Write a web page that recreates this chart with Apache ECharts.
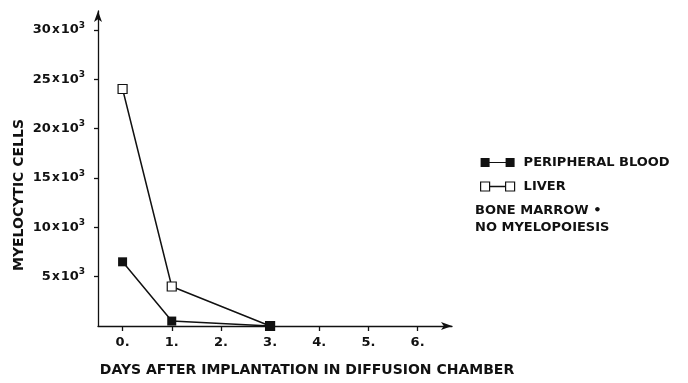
<!DOCTYPE html>
<html>
<head>
<meta charset="utf-8">
<script src="https://cdn.jsdelivr.net/npm/echarts@6/dist/echarts.min.js"></script>
<style>
  html, body { margin: 0; padding: 0; background: #fff; }
  #chart { width: 688px; height: 383px; }
</style>
</head>
<body>
<div id="chart"></div>
<script>
// values
const days = [0, 1, 3]
const peripheralBlood = [6500, 500, 0]
const liver = [24000, 4000, 0]
const yTicks = [5000, 10000, 15000, 20000, 25000, 30000]
const xTicks = [0, 1, 2, 3, 4, 5, 6]

const font = 'DejaVu Sans'
const ink = '#111'

const chart = echarts.init(document.getElementById('chart'))

const filledIcon = 'path://M0,0 L9,0 L9,9 L0,9 Z M9,3.9 L25,3.9 L25,5.1 L9,5.1 Z M25,0 L34,0 L34,9 L25,9 Z'
const hollowIcon = 'path://M0,0 L9,0 L9,9 L0,9 Z M9,4.4 L25,4.4 L25,4.6 L9,4.6 Z M25,0 L34,0 L34,9 L25,9 Z'

const option = {
  backgroundColor: '#fff',
  animation: false,
  grid: { left: 98, top: 11, right: 236, bottom: 57 },
  xAxis: {
    type: 'value',
    min: -0.5,
    max: 6.7,
    splitLine: { show: false },
    axisLine: {
      lineStyle: { color: ink, width: 1.3 },
      symbol: ['none', 'arrow'],
      symbolSize: [6, 11]
    },
    axisTick: { customValues: xTicks, length: 5, lineStyle: { color: ink, width: 1.3 } },
    axisLabel: {
      customValues: xTicks,
      formatter: v => v + '.',
      color: ink,
      fontFamily: font,
      fontWeight: 'bold',
      fontSize: 13,
      margin: 10
    }
  },
  yAxis: {
    type: 'value',
    min: 0,
    max: 31900,
    splitLine: { show: false },
    axisLine: {
      onZero: false,
      lineStyle: { color: ink, width: 1.3 },
      symbol: ['none', 'arrow'],
      symbolSize: [6, 11]
    },
    axisTick: { customValues: yTicks, length: 4, lineStyle: { color: ink, width: 1.3 } },
    axisLabel: {
      customValues: yTicks,
      formatter: v => '{b|' + (v / 1000) + '}{x|x}{b|10}{s|3}',
      margin: 13,
      rich: {
        b: { fontFamily: font, fontWeight: 'bold', fontSize: 13, color: ink },
        x: { fontFamily: font, fontWeight: 'bold', fontSize: 12, color: ink, padding: [0, 1, 0, 1] },
        s: { fontFamily: font, fontWeight: 'bold', fontSize: 9, color: ink, verticalAlign: 'top', padding: [0, 0, 9, 0] }
      }
    }
  },
  legend: {
    orient: 'vertical',
    left: 475,
    top: 151,
    itemGap: 11,
    itemWidth: 34,
    itemHeight: 9,
    textStyle: { fontFamily: font, fontWeight: 'bold', fontSize: 13, color: ink, padding: [0, 0, 0, 4] },
    data: [
      { name: 'PERIPHERAL BLOOD', icon: filledIcon, itemStyle: { color: ink, borderWidth: 0 } },
      { name: 'LIVER', icon: hollowIcon, itemStyle: { color: '#fff', borderColor: ink, borderWidth: 1.2 } }
    ]
  },
  graphic: [
    {
      type: 'text',
      left: 475,
      top: 202,
      style: {
        text: 'BONE MARROW \u2022\nNO MYELOPOIESIS',
        font: 'bold 13px "DejaVu Sans"',
        fill: ink,
        lineHeight: 17
      }
    },
    {
      type: 'text',
      x: 19,
      y: 195,
      rotation: Math.PI / 2,
      style: {
        text: 'MYELOCYTIC CELLS',
        font: 'bold 14px "DejaVu Sans"',
        fill: ink,
        align: 'center',
        verticalAlign: 'middle'
      }
    },
    {
      type: 'text',
      x: 307,
      y: 370,
      style: {
        text: 'DAYS AFTER IMPLANTATION IN DIFFUSION CHAMBER',
        font: 'bold 14px "DejaVu Sans"',
        fill: ink,
        align: 'center',
        verticalAlign: 'middle'
      }
    }
  ],
  series: [
    {
      name: 'PERIPHERAL BLOOD',
      type: 'line',
      data: days.map((d, i) => [d, peripheralBlood[i]]),
      symbol: 'rect',
      symbolSize: 9,
      z: 3,
      lineStyle: { color: ink, width: 1.5 },
      itemStyle: { color: ink, borderWidth: 0 }
    },
    {
      name: 'LIVER',
      type: 'line',
      data: days.map((d, i) => [d, liver[i]]),
      symbol: 'rect',
      symbolSize: 9,
      z: 2,
      lineStyle: { color: ink, width: 1.5 },
      itemStyle: { color: '#fff', borderColor: ink, borderWidth: 1.2 }
    }
  ]
}

chart.setOption(option)
</script>
</body>
</html>
